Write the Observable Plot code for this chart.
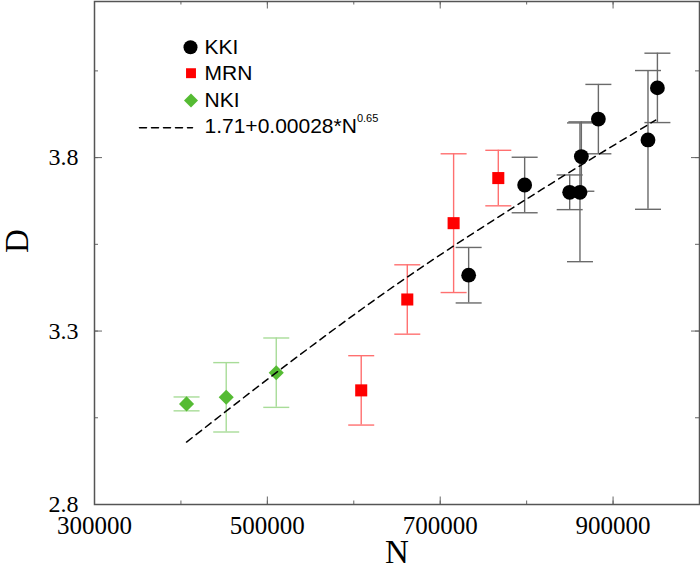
<!DOCTYPE html>
<html>
<head>
<meta charset="utf-8">
<script src="https://cdn.jsdelivr.net/npm/d3@7"></script>
<script src="https://cdn.jsdelivr.net/npm/@observablehq/plot@0.6"></script>
<style>
  html, body { margin: 0; padding: 0; background: white; }
  svg { display: block; }
</style>
</head>
<body>
<div id="chart"></div>
<script>
// ---- data ----
const kkiN = [732900, 797700, 849800, 861700, 863300, 883000, 940400, 951300];
const kkiD = [3.461, 3.721, 3.700, 3.700, 3.803, 3.911, 3.851, 4.001];
const kkiErr = [0.08, 0.08, 0.05, 0.20, 0.10, 0.10, 0.20, 0.10];

const mrnN = [608600, 661900, 715500, 767200];
const mrnD = [3.129, 3.391, 3.611, 3.741];
const mrnErr = [0.10, 0.10, 0.20, 0.08];

const nkiN = [406500, 452400, 510300];
const nkiD = [3.090, 3.109, 3.180];
const nkiErr = [0.02, 0.10, 0.10];

const fitN = [406500, 510300, 631000, 816200, 949300];
const fitD = [2.980, 3.180, 3.402, 3.706, 3.908];

const xTicks = [300000, 400000, 500000, 600000, 700000, 800000, 900000];
const xTickLabels = [300000, 500000, 700000, 900000];
const yTicks = [2.8, 3.05, 3.3, 3.55, 3.8, 4.05];
const yTickLabels = [2.8, 3.3, 3.8];

const seriesNames = ["KKI", "MRN", "NKI"];
const fitLabel = "1.71+0.00028*N";
const fitExponent = "0.65";
const xLabel = "N";
const yLabel = "D";

// ---- build tables ----
const toRows = (N, D, E) => N.map((n, i) => ({n, d: D[i], e: E[i]}));
const kki = toRows(kkiN, kkiD, kkiErr);
const mrn = toRows(mrnN, mrnD, mrnErr);
const nki = toRows(nkiN, nkiD, nkiErr);
const fit = fitN.map((n, i) => ({n, d: fitD[i]}));

const W = 700, H = 577;
const mL = 94, mT = 1, mR = 1, mB = 73;
const innerW = W - mL - mR, innerH = H - mT - mB;

const serif = "'Liberation Serif', 'Times New Roman', serif";
const sans = "'Liberation Sans', Arial, Helvetica, sans-serif";

const cap = {draw(ctx, size) { const l = Math.sqrt(size / Math.PI); ctx.moveTo(-l, 0); ctx.lineTo(l, 0); }};
const hline = {draw(ctx, l) { ctx.moveTo(0, 0); ctx.lineTo(0, -l); }};

const colors = {
  kki: "#000000", kkiBar: "#6a6a6a",
  mrn: "#ff0000", mrnBar: "#ff7070",
  nki: "#55bb33", nkiBar: "#a8dc98"
};

function errorBars(rows, color) {
  return [
    Plot.ruleX(rows, {x: "n", y1: d => d.d - d.e, y2: d => d.d + d.e, stroke: color, strokeWidth: 1.4}),
    Plot.dot(rows, {x: "n", y: d => d.d + d.e, symbol: cap, r: 13, stroke: color, strokeWidth: 1.4, fill: "none"}),
    Plot.dot(rows, {x: "n", y: d => d.d - d.e, symbol: cap, r: 13, stroke: color, strokeWidth: 1.4, fill: "none"})
  ];
}

const tickStroke = "#666";
const legendFont = 21;

const chart = Plot.plot({
  width: W, height: H,
  marginLeft: mL, marginTop: mT, marginRight: mR, marginBottom: mB,
  x: {domain: [300000, 1000000]},
  y: {domain: [2.8, 4.25]},
  style: {background: "white", color: "black"},
  marks: [
    // ticks pointing inward on all four sides
    Plot.ruleX(xTicks, {insetTop: innerH - 3.5, stroke: tickStroke}),
    Plot.ruleX(xTickLabels, {insetTop: innerH - 7.5, stroke: tickStroke}),
    Plot.ruleX(xTicks, {insetBottom: innerH - 3.5, stroke: tickStroke}),
    Plot.ruleX(xTickLabels, {insetBottom: innerH - 7.5, stroke: tickStroke}),
    Plot.ruleY(yTicks, {insetRight: innerW - 4, stroke: tickStroke}),
    Plot.ruleY(yTickLabels, {insetRight: innerW - 8, stroke: tickStroke}),
    Plot.ruleY(yTicks, {insetLeft: innerW - 4, stroke: tickStroke}),
    Plot.ruleY(yTickLabels, {insetLeft: innerW - 8, stroke: tickStroke}),
    Plot.axisX(xTickLabels, {tickSize: 0, tickPadding: 12, fontSize: 25, fontFamily: serif, tickFormat: d3.format("d"), label: null}),
    Plot.axisY(yTickLabels, {tickSize: 0, tickPadding: 16, fontSize: 24, fontFamily: serif, tickFormat: d => d.toFixed(1), label: null}),
    // axis titles
    Plot.text([xLabel], {text: d => d, frameAnchor: "bottom", dy: 48, fontSize: 33, fontFamily: serif, lineAnchor: "middle"}),
    Plot.text([yLabel], {text: d => d, frameAnchor: "left", dx: -77, rotate: -90, fontSize: 33, fontFamily: serif, lineAnchor: "middle"}),
    // error bars
    ...errorBars(nki, colors.nkiBar),
    ...errorBars(mrn, colors.mrnBar),
    ...errorBars(kki, colors.kkiBar),
    // markers
    Plot.dot(nki, {x: "n", y: "d", symbol: "diamond2", r: 6.8, fill: colors.nki}),
    Plot.dot(mrn, {x: "n", y: "d", symbol: "square", r: 6.8, fill: colors.mrn}),
    Plot.dot(kki, {x: "n", y: "d", symbol: "circle", r: 7.4, fill: colors.kki}),
    // fit line
    Plot.line(fit, {x: "n", y: "d", stroke: "black", strokeWidth: 1.5, strokeDasharray: "7,5", curve: "monotone-x"}),
    // legend
    Plot.dot([seriesNames[0]], {frameAnchor: "top-left", dx: 96, dy: 45.7, r: 7, symbol: "circle", fill: colors.kki}),
    Plot.dot([seriesNames[1]], {frameAnchor: "top-left", dx: 96.5, dy: 71.7, r: 5.6, symbol: "square", fill: colors.mrn}),
    Plot.dot([seriesNames[2]], {frameAnchor: "top-left", dx: 96.5, dy: 99, r: 6.3, symbol: "diamond2", fill: colors.nki}),
    Plot.vector([fitLabel], {frameAnchor: "top-left", dx: 45, dy: 126.3, length: 53, rotate: 90, anchor: "start", shape: hline, stroke: "black", strokeWidth: 1.5, strokeDasharray: "7,5"}),
    Plot.text(seriesNames, {text: d => d, frameAnchor: "top-left", dx: 110, dy: (d, i) => 0, textAnchor: "start", fontSize: legendFont, fontFamily: sans, lineAnchor: "middle", filter: () => false}),
    Plot.text([seriesNames[0]], {text: d => d, frameAnchor: "top-left", dx: 110, dy: 45.7, textAnchor: "start", fontSize: legendFont, fontFamily: sans, lineAnchor: "middle"}),
    Plot.text([seriesNames[1]], {text: d => d, frameAnchor: "top-left", dx: 110, dy: 72, textAnchor: "start", fontSize: legendFont, fontFamily: sans, lineAnchor: "middle"}),
    Plot.text([seriesNames[2]], {text: d => d, frameAnchor: "top-left", dx: 110, dy: 99, textAnchor: "start", fontSize: legendFont, fontFamily: sans, lineAnchor: "middle"}),
    Plot.text([fitLabel], {text: d => d, frameAnchor: "top-left", dx: 110, dy: 125, textAnchor: "start", fontSize: legendFont, fontFamily: sans, lineAnchor: "middle"}),
    Plot.frame({stroke: "#555", strokeWidth: 1.5})
  ]
});

// superscript exponent on the fit formula
d3.select(chart).selectAll("text").filter(function() { return this.textContent === fitLabel; })
  .append("tspan").attr("dy", -11).attr("font-size", 11).text(fitExponent);

document.getElementById("chart").appendChild(chart);
</script>
</body>
</html>
